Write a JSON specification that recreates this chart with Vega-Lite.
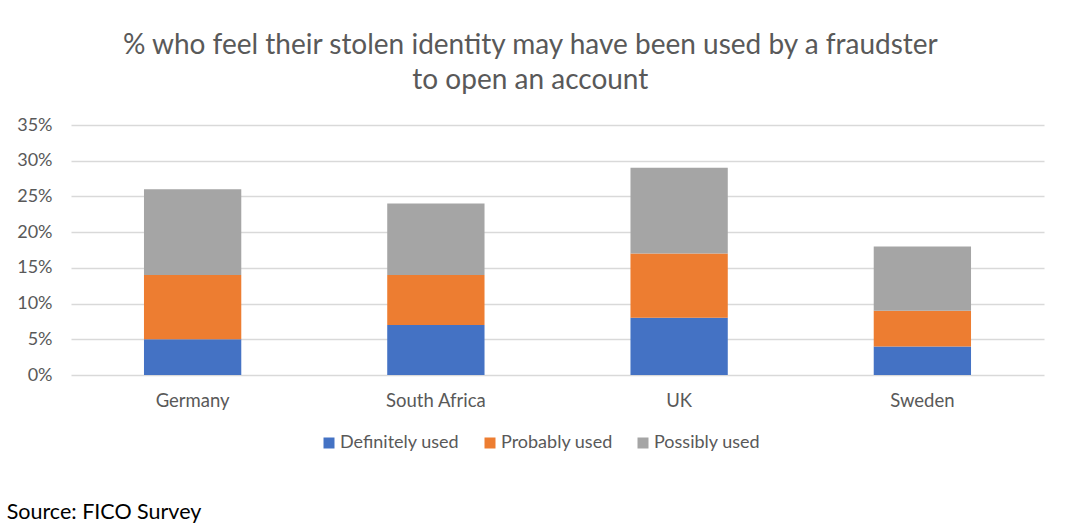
{
  "$schema": "https://vega.github.io/schema/vega-lite/v6.json",
  "padding": {"left": 6, "top": 32, "right": 5, "bottom": 5},
  "background": "white",
  "title": {
    "text": "Source: FICO Survey",
    "orient": "bottom",
    "anchor": "start",
    "frame": "bounds",
    "fontSize": 21.5,
    "font": "Lato",
    "fontWeight": "normal",
    "color": "#000000",
    "offset": 50,
    "dx": -10
  },
  "vconcat": [
    {
      "title": {
        "text": ["% who feel their stolen identity may have been used by a fraudster", "to open an account"],
        "anchor": "middle",
        "frame": "bounds",
        "fontSize": 28,
        "lineHeight": 35,
        "font": "Lato",
        "fontWeight": "normal",
        "color": "#595959",
        "offset": 21
      },
      "width": 973,
      "height": 250,
      "data": {
        "values": [
          {"country": "Germany", "category": "Definitely used", "rank": 1, "value": 0.05},
          {"country": "Germany", "category": "Probably used", "rank": 2, "value": 0.09},
          {"country": "Germany", "category": "Possibly used", "rank": 3, "value": 0.12},
          {"country": "South Africa", "category": "Definitely used", "rank": 1, "value": 0.07},
          {"country": "South Africa", "category": "Probably used", "rank": 2, "value": 0.07},
          {"country": "South Africa", "category": "Possibly used", "rank": 3, "value": 0.10},
          {"country": "UK", "category": "Definitely used", "rank": 1, "value": 0.08},
          {"country": "UK", "category": "Probably used", "rank": 2, "value": 0.09},
          {"country": "UK", "category": "Possibly used", "rank": 3, "value": 0.12},
          {"country": "Sweden", "category": "Definitely used", "rank": 1, "value": 0.04},
          {"country": "Sweden", "category": "Probably used", "rank": 2, "value": 0.05},
          {"country": "Sweden", "category": "Possibly used", "rank": 3, "value": 0.09}
        ]
      },
      "mark": {"type": "bar"},
      "encoding": {
        "x": {
          "field": "country",
          "type": "nominal",
          "sort": ["Germany", "South Africa", "UK", "Sweden"],
          "scale": {"paddingInner": 0.6, "paddingOuter": 0.3},
          "axis": {
            "title": null,
            "labelAngle": 0,
            "domain": false,
            "ticks": false,
            "labelPadding": 16,
            "labelFontSize": 18.5,
            "labelFont": "Lato",
            "labelColor": "#595959"
          }
        },
        "y": {
          "field": "value",
          "type": "quantitative",
          "stack": "zero",
          "scale": {"domain": [0, 0.35]},
          "axis": {
            "title": null,
            "format": ".0%",
            "values": [0, 0.05, 0.1, 0.15, 0.2, 0.25, 0.3, 0.35],
            "domain": false,
            "ticks": false,
            "labelPadding": 19,
            "labelFontSize": 18,
            "labelFont": "Lato",
            "labelColor": "#595959",
            "grid": true,
            "gridColor": "#D9D9D9",
            "gridWidth": 1.5
          }
        },
        "color": {
          "field": "category",
          "type": "nominal",
          "scale": {
            "domain": ["Definitely used", "Probably used", "Possibly used"],
            "range": ["#4472C4", "#ED7D31", "#A5A5A5"]
          },
          "legend": {
            "title": null,
            "orient": "none",
            "legendX": 249,
            "legendY": 309,
            "direction": "horizontal",
            "symbolType": "square",
            "symbolSize": 121,
            "symbolStrokeWidth": 0,
            "labelOffset": 2,
            "labelFontSize": 18,
            "labelFont": "Lato",
            "labelColor": "#595959",
            "columnPadding": 21,
            "padding": 0
          }
        },
        "order": {"field": "rank", "type": "quantitative"}
      }
    }
  ],
  "config": {
    "view": {"stroke": null}
  }
}
